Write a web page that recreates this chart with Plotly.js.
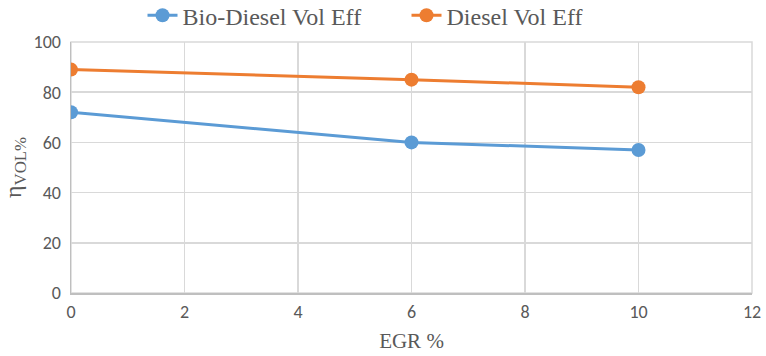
<!DOCTYPE html>
<html><head><meta charset="utf-8">
<script src="https://cdn.plot.ly/plotly-3.0.1.min.js"></script>
<style>html,body{margin:0;padding:0;background:#fff}#chart{width:766px;height:356px}</style>
</head><body><div id="chart"></div>
<script>
var egr = [0, 6, 10];
var bioDieselVolEff = [72, 60, 57];
var dieselVolEff = [89, 85, 82];
var seriesNames = ['Bio-Diesel Vol Eff', 'Diesel Vol Eff'];

var traces = [
  {x: egr, y: bioDieselVolEff, name: seriesNames[0], type: 'scatter', mode: 'lines+markers',
   line: {color: '#5b9bd5', width: 3}, marker: {color: '#5b9bd5', size: 14}},
  {x: egr, y: dieselVolEff, name: seriesNames[1], type: 'scatter', mode: 'lines+markers',
   line: {color: '#ed7d31', width: 3}, marker: {color: '#ed7d31', size: 14}}
];
var layout = {
  width: 766, height: 356,
  margin: {l: 71, r: 14, t: 42, b: 63, autoexpand: false},
  paper_bgcolor: '#fff', plot_bgcolor: '#fff',
  showlegend: true,
  legend: {orientation: 'h', x: 0.105, xanchor: 'left', y: 1.105, yanchor: 'middle',
           font: {family: 'Liberation Serif, Times New Roman, serif', size: 24, color: '#595959'},
           bgcolor: 'rgba(0,0,0,0)', tracegroupgap: 0, entrywidth: 219, entrywidthmode: 'pixels'},
  xaxis: {range: [0, 12], dtick: 2, showgrid: true, gridcolor: '#d9d9d9', gridwidth: 1.5,
          zeroline: false, showline: true, linecolor: '#bfbfbf', linewidth: 1.5, mirror: false,
          ticks: '', ticklabelstandoff: 2, tickfont: {family: 'Carlito, Liberation Sans, sans-serif', size: 18, color: '#595959'},
          title: {text: 'EGR %', font: {family: 'Liberation Serif, Times New Roman, serif', size: 21, color: '#595959'}, standoff: 11}},
  yaxis: {range: [0, 100], dtick: 20, showgrid: true, gridcolor: '#d9d9d9', gridwidth: 1.5,
          zeroline: false, showline: true, linecolor: '#bfbfbf', linewidth: 1.5,
          ticks: '', ticklabelstandoff: 5, tickfont: {family: 'Carlito, Liberation Sans, sans-serif', size: 18, color: '#595959'},
          title: {text: 'η<sub>VOL%</sub>', font: {family: 'Liberation Serif, Times New Roman, serif', size: 24, color: '#595959'}, standoff: 6}},
  shapes: [{type: 'rect', xref: 'paper', yref: 'paper', x0: 0, x1: 1, y0: 0, y1: 1,
            line: {color: '#d9d9d9', width: 1.5}, fillcolor: 'rgba(0,0,0,0)', layer: 'below'}]
};
Plotly.newPlot('chart', traces, layout, {displayModeBar: false, staticPlot: true});
</script></body></html>
